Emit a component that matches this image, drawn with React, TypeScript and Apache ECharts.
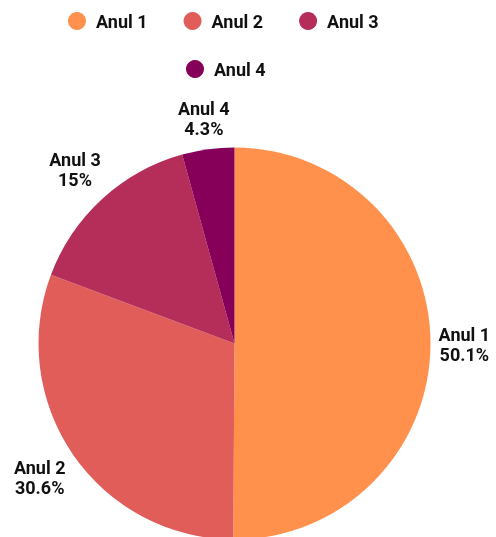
import React, { useEffect, useRef } from "react";
import * as echarts from "echarts";

const categories = ["Anul 1", "Anul 2", "Anul 3", "Anul 4"];
const values = [50.1, 30.6, 15, 4.3];
const colors = ["#FF914D", "#E05D5A", "#B52D59", "#860059"];
const legendRow1 = ["Anul 1", "Anul 2", "Anul 3"];
const legendRow2 = ["Anul 4"];

const CX = 234.5;
const CY = 343.5;
const R = 196;
const LABEL_OFFSET = 8;

export default function App() {
  const ref = useRef<HTMLDivElement>(null);
  useEffect(() => {
    if (!ref.current) return;
    const chart = echarts.init(ref.current, undefined, { renderer: "svg" });
    const total = values.reduce((a, b) => a + b, 0);
    const mids: number[] = [];
    let acc = 0;
    values.forEach((v) => {
      mids.push((acc + v / 2) / total);
      acc += v;
    });
    const font = "Roboto, 'Noto Sans', sans-serif";
    const legendBase = {
      icon: "circle",
      itemWidth: 18,
      itemHeight: 18,
      itemGap: 36,
      textStyle: {
        fontFamily: font,
        fontSize: 18,
        fontWeight: "bold",
        color: "#111",
        padding: [0, 0, 0, 5],
        lineHeight: 18,
      },
    };
    chart.setOption({
      animation: false,
      color: colors,
      legend: [
        { ...legendBase, data: legendRow1, left: 63, top: 7 },
        { ...legendBase, data: legendRow2, left: 181, top: 55 },
      ],
      series: [
        {
          type: "pie",
          center: [CX, CY],
          radius: R,
          startAngle: 90,
          clockwise: true,
          avoidLabelOverlap: false,
          data: categories.map((c, i) => ({ name: c, value: values[i] })),
          label: {
            show: true,
            position: "outside",
            formatter: (p: any) => `${p.name}\n${p.value}%`,
            fontFamily: font,
            fontSize: 18,
            fontWeight: "bold",
            color: "#111",
            lineHeight: 20,
            align: "center",
          },
          labelLine: { show: false },
          labelLayout: (params: any) => {
            const f = mids[params.dataIndex];
            const th = f * Math.PI * 2;
            const ux = Math.sin(th);
            const uy = -Math.cos(th);
            const w = params.labelRect.width;
            const h = params.labelRect.height;
            const d = R + Math.abs(ux) * w / 2 + Math.abs(uy) * h / 2 + LABEL_OFFSET;
            return {
              x: CX + ux * d,
              y: CY + uy * d,
              align: "center",
              verticalAlign: "middle",
            };
          },
        },
      ],
    });
    return () => chart.dispose();
  }, []);
  return (
    <div
      ref={ref}
      style={{ position: "fixed", left: 0, top: 0, width: 496, height: 537 }}
    />
  );
}
